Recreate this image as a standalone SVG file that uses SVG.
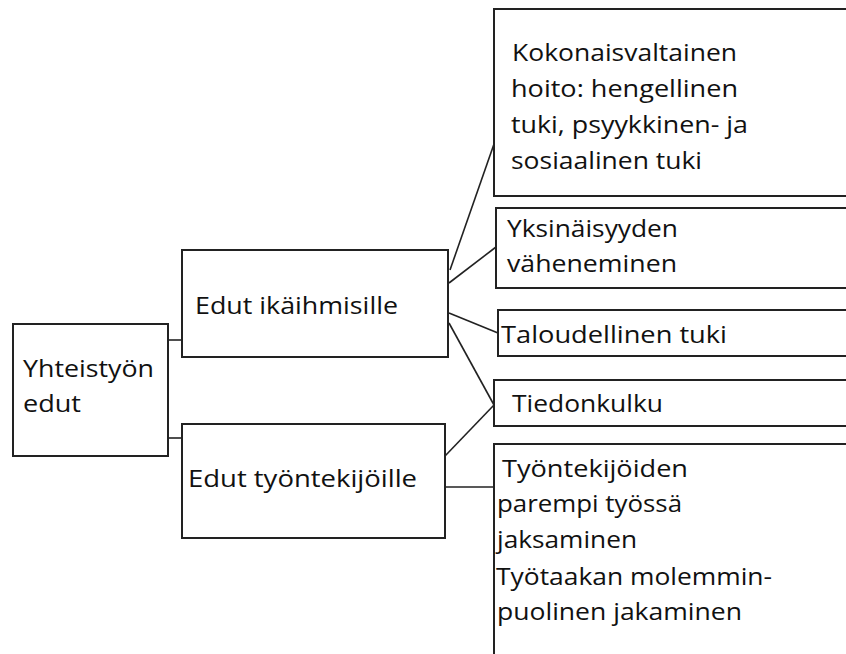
<svg xmlns="http://www.w3.org/2000/svg" width="846" height="654" viewBox="0 0 846 654">
<style>
.box{fill:#fff;stroke:#222;stroke-width:2}
.conn line{stroke:#222;stroke-width:1.6}
text{font-family:"Open Sans","Noto Sans","DejaVu Sans",sans-serif;font-size:24px;fill:#111}
</style>
<rect x="0" y="0" width="846" height="654" fill="#fff"/>
<g id="connectors" class="conn">
<line x1="168" y1="340" x2="182" y2="340"/>
<line x1="168" y1="438" x2="182" y2="438"/>
<line x1="450" y1="270" x2="494" y2="144"/>
<line x1="449" y1="283" x2="496" y2="247"/>
<line x1="449" y1="313" x2="498" y2="333"/>
<line x1="449" y1="323" x2="494" y2="405"/>
<line x1="445" y1="456" x2="494" y2="405"/>
<line x1="445" y1="487" x2="494" y2="487"/>
</g>
<g id="n0">
<rect class="box" x="13" y="324" width="155" height="132"/>
<text x="23" y="377" textLength="131" lengthAdjust="spacingAndGlyphs">Yhteistyön</text>
<text x="23" y="412" textLength="58" lengthAdjust="spacingAndGlyphs">edut</text>
</g>
<g id="n1">
<rect class="box" x="182" y="250" width="266" height="107"/>
<text x="195" y="314" textLength="203" lengthAdjust="spacingAndGlyphs">Edut ikäihmisille</text>
</g>
<g id="n2">
<rect class="box" x="182" y="424" width="263" height="114"/>
<text x="188" y="487" textLength="229" lengthAdjust="spacingAndGlyphs">Edut työntekijöille</text>
</g>
<g id="n3">
<rect class="box" x="494" y="9" width="360" height="187"/>
<text x="512" y="61" textLength="225" lengthAdjust="spacingAndGlyphs">Kokonaisvaltainen</text>
<text x="511" y="97" textLength="227" lengthAdjust="spacingAndGlyphs">hoito: hengellinen</text>
<text x="511" y="133" textLength="237" lengthAdjust="spacingAndGlyphs">tuki, psyykkinen- ja</text>
<text x="511" y="169" textLength="191" lengthAdjust="spacingAndGlyphs">sosiaalinen tuki</text>
</g>
<g id="n4">
<rect class="box" x="496" y="208" width="360" height="80"/>
<text x="507" y="237" textLength="171" lengthAdjust="spacingAndGlyphs">Yksinäisyyden</text>
<text x="507" y="272" textLength="170" lengthAdjust="spacingAndGlyphs">väheneminen</text>
</g>
<g id="n5">
<rect class="box" x="498" y="310" width="360" height="46"/>
<text x="501" y="343" textLength="226" lengthAdjust="spacingAndGlyphs">Taloudellinen tuki</text>
</g>
<g id="n6">
<rect class="box" x="494" y="380" width="360" height="46"/>
<text x="512" y="412" textLength="151" lengthAdjust="spacingAndGlyphs">Tiedonkulku</text>
</g>
<g id="n7">
<rect class="box" x="494" y="444" width="360" height="230"/>
<text x="502" y="477" textLength="186" lengthAdjust="spacingAndGlyphs">Työntekijöiden</text>
<text x="497" y="512" textLength="185" lengthAdjust="spacingAndGlyphs">parempi työssä</text>
<text x="497" y="548" textLength="140" lengthAdjust="spacingAndGlyphs">jaksaminen</text>
<text x="496" y="585" textLength="276" lengthAdjust="spacingAndGlyphs">Työtaakan molemmin-</text>
<text x="497" y="620" textLength="245" lengthAdjust="spacingAndGlyphs">puolinen jakaminen</text>
</g>
</svg>
